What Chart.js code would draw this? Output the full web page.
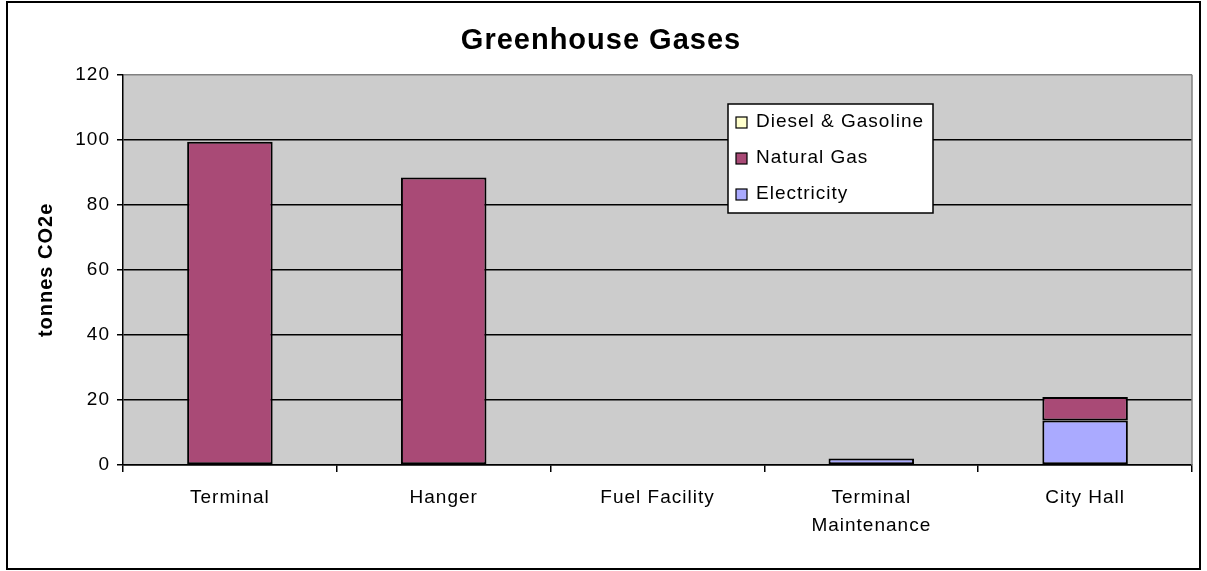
<!DOCTYPE html>
<html>
<head>
<meta charset="utf-8">
<script src="https://cdn.jsdelivr.net/npm/chart.js@4"></script>
<style>
  html, body { margin: 0; padding: 0; background: #fff; }
</style>
</head>
<body>
<canvas id="ghgChart" width="1207" height="571"></canvas>
<script>
const facilities = ["Terminal", "Hanger", "Fuel Facility", ["Terminal", "Maintenance"], "City Hall"];
const electricity = [0, 0, 0, 2.0, 13.7];
const naturalGas = [99.4, 88.4, 0, 0, 7.2];
const dieselGasoline = [0, 0, 0, 0, 0];
const yMin = 0, yMax = 120, yStep = 20;

const FONT = "'Liberation Sans', Arial, sans-serif";
const SPACING = '1px'; // Excel renders its text a bit spread out

// hide zero-height bars (Excel draws nothing for them)
const zeroSafeBorder = (ctx) => (ctx.raw ? 2 : 0);

// gray plot area, outer frame, right edge and the boxed legend
const plotFrame = {
    id: 'plotFrame',
    beforeDraw(chart) {
        const { ctx, chartArea: a } = chart;
        ctx.letterSpacing = SPACING;
        ctx.save();
        ctx.fillStyle = '#fff';
        ctx.fillRect(0, 0, chart.width, chart.height);
        ctx.fillStyle = '#cccccc';
        ctx.fillRect(a.left, a.top, a.right - a.left, a.bottom - a.top);
        ctx.restore();
    },
    afterDraw(chart) {
        const { ctx, chartArea: a } = chart;
        ctx.save();
        ctx.letterSpacing = SPACING;
        // right edge of the plot area
        ctx.strokeStyle = '#808080';
        ctx.lineWidth = 1.5;
        ctx.beginPath();
        ctx.moveTo(a.right, a.top);
        ctx.lineTo(a.right, a.bottom);
        ctx.stroke();

        // outer chart border
        ctx.strokeStyle = '#000';
        ctx.lineWidth = 2;
        ctx.strokeRect(7, 2, 1193, 567);

        // legend box
        const lx = 728, ly = 104, lw = 205, lh = 109;
        ctx.fillStyle = '#fff';
        ctx.fillRect(lx, ly, lw, lh);
        ctx.strokeStyle = '#000';
        ctx.lineWidth = 1.5;
        ctx.strokeRect(lx, ly, lw, lh);

        ctx.font = '19px ' + FONT;
        ctx.textBaseline = 'middle';
        const sets = chart.data.datasets.slice().reverse();
        sets.forEach((ds, i) => {
            const cy = ly + 18 + i * 36;
            ctx.fillStyle = ds.backgroundColor;
            ctx.fillRect(lx + 8, cy - 5, 11, 11);
            ctx.strokeStyle = '#000';
            ctx.lineWidth = 1.2;
            ctx.strokeRect(lx + 8, cy - 5, 11, 11);
            ctx.fillStyle = '#000';
            ctx.fillText(ds.label, lx + 28, cy);
        });
        ctx.restore();
    }
};

new Chart(document.getElementById('ghgChart'), {
    type: 'bar',
    data: {
        labels: facilities,
        datasets: [
            { label: 'Electricity', data: electricity, backgroundColor: '#aaaaff' },
            { label: 'Natural Gas', data: naturalGas, backgroundColor: '#a94a76' },
            { label: 'Diesel & Gasoline', data: dieselGasoline, backgroundColor: '#ffffcc' }
        ].map(ds => Object.assign(ds, {
            borderColor: '#000',
            borderWidth: zeroSafeBorder,
            borderSkipped: false,
            barPercentage: 1,
            categoryPercentage: 0.4
        }))
    },
    options: {
        responsive: false,
        animation: false,
        devicePixelRatio: 1,
        layout: { padding: { left: 10, right: 15, top: 8, bottom: 0 } },
        plugins: {
            legend: { display: false },
            tooltip: { enabled: false },
            title: {
                display: true,
                text: 'Greenhouse Gases',
                color: '#000',
                font: { family: FONT, size: 29, weight: 'bold' },
                padding: { top: 16, bottom: 16 }
            }
        },
        scales: {
            x: {
                stacked: true,
                afterFit(scale) { scale.height = 106; },
                grid: {
                    offset: true,
                    drawOnChartArea: false,
                    color: '#000',
                    tickLength: 7,
                    lineWidth: 1.5
                },
                border: { color: '#000', width: 1.5 },
                ticks: {
                    color: '#000',
                    maxRotation: 0,
                    autoSkip: false,
                    padding: 12,
                    font: { family: FONT, size: 19, lineHeight: 1.45 }
                }
            },
            y: {
                stacked: true,
                min: yMin,
                max: yMax,
                afterFit(scale) { scale.width = 113; },
                grid: {
                    color: (c) => (c.tick && c.tick.value === yMax ? '#808080' : '#000'),
                    tickColor: '#000',
                    tickLength: 6,
                    lineWidth: 1.5
                },
                border: { color: '#000', width: 1.5 },
                ticks: {
                    stepSize: yStep,
                    color: '#000',
                    padding: 7,
                    font: { family: FONT, size: 19 }
                },
                title: {
                    display: true,
                    text: 'tonnes CO2e',
                    color: '#000',
                    font: { family: FONT, size: 20, weight: 'bold' },
                    padding: { top: 24, bottom: 0 }
                }
            }
        }
    },
    plugins: [plotFrame]
});
</script>
</body>
</html>
